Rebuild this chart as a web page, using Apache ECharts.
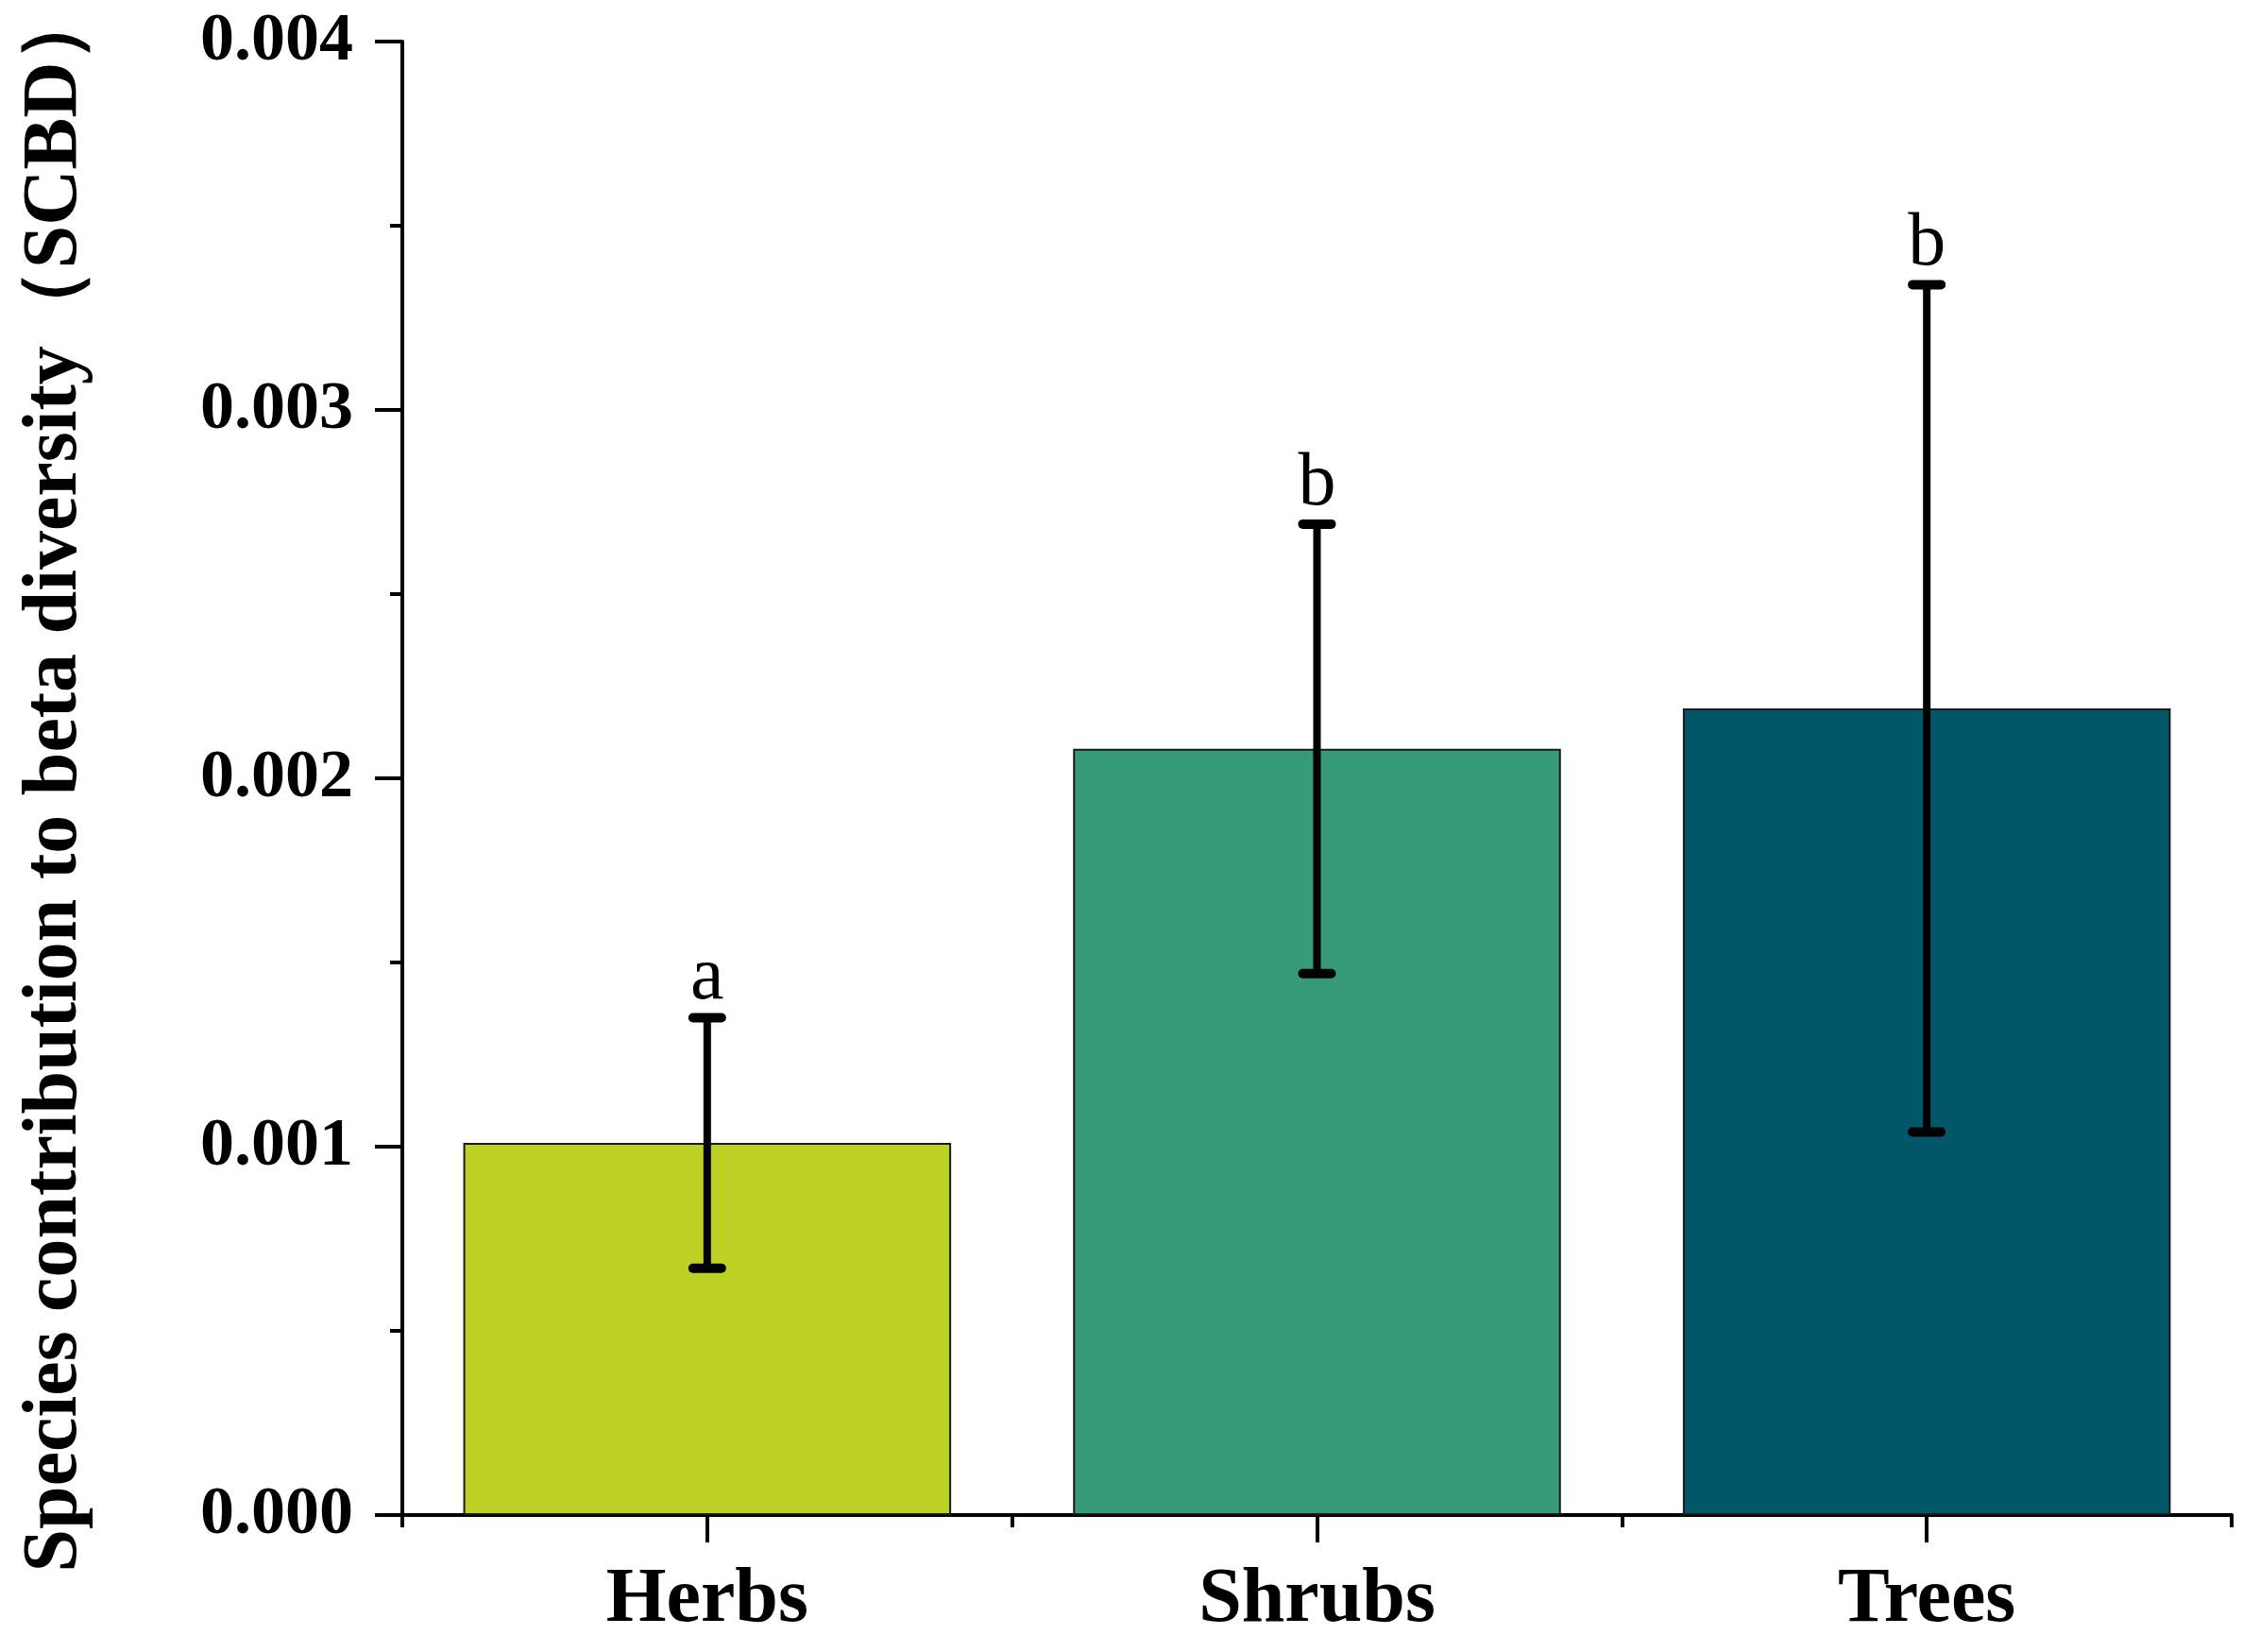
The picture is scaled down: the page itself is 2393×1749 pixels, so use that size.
<!DOCTYPE html>
<html>
<head>
<meta charset="utf-8">
<script src="https://cdn.jsdelivr.net/npm/echarts@6/dist/echarts.min.js"></script>
<style>
html,body{margin:0;padding:0;background:#fff;}
#chart{width:2393px;height:1749px;}
</style>
</head>
<body>
<div id="chart"></div>
<script>
const categories = ['Herbs', 'Shrubs', 'Trees'];
const means = [0.00101, 0.00208, 0.00219];
const errors = [0.00034, 0.00061, 0.00115];
const letters = ['a', 'b', 'b'];
const barColors = ['#BDD024', '#369A78', '#02586A'];
const yTicks = [0, 0.001, 0.002, 0.003, 0.004];

const chart = echarts.init(document.getElementById('chart'));
const serif = '"Liberation Serif", "Times New Roman", serif';

const errData = categories.map((c, i) => [i, means[i] - errors[i], means[i] + errors[i], letters[i]]);

chart.setOption({
  animation: false,
  backgroundColor: '#fff',
  grid: { left: 426, right: 30, top: 44, bottom: 145, containLabel: false, outerBoundsMode: 'none' },
  xAxis: [
    {
      type: 'category',
      data: categories,
      axisLine: { show: true, lineStyle: { color: '#000', width: 4 } },
      axisTick: { show: true, alignWithLabel: true, length: 29, lineStyle: { color: '#000', width: 4 } },
      axisLabel: { color: '#000', fontFamily: serif, fontWeight: 'bold', fontSize: 82, margin: 50 },
      splitLine: { show: false }
    },
    {
      type: 'category',
      data: categories,
      position: 'bottom',
      axisLine: { show: false },
      axisTick: { show: true, alignWithLabel: false, length: 13, lineStyle: { color: '#000', width: 4 } },
      axisLabel: { show: false },
      splitLine: { show: false }
    }
  ],
  yAxis: {
    type: 'value',
    min: yTicks[0],
    max: yTicks[yTicks.length - 1],
    interval: 0.001,
    name: 'Species contribution to beta diversity（SCBD）',
    nameLocation: 'middle',
    nameGap: 326,
    nameTextStyle: { color: '#000', fontFamily: serif, fontWeight: 'bold', fontSize: 82 },
    axisLine: { show: true, lineStyle: { color: '#000', width: 4 } },
    axisTick: { show: true, length: 29, lineStyle: { color: '#000', width: 4 } },
    minorTick: { show: true, splitNumber: 2, length: 13, lineStyle: { color: '#000', width: 4 } },
    axisLabel: { color: '#000', fontFamily: serif, fontWeight: 'bold', fontSize: 72, margin: 52,
      formatter: v => v.toFixed(3) },
    splitLine: { show: false },
    minorSplitLine: { show: false }
  },
  series: [
    {
      type: 'bar',
      data: means.map((v, i) => ({ value: v, itemStyle: { color: barColors[i] } })),
      barCategoryGap: '20%',
      itemStyle: { borderColor: '#1a1a1a', borderWidth: 2 }
    },
    {
      type: 'custom',
      data: errData,
      z: 10,
      renderItem: function (params, api) {
        const x = api.coord([api.value(0), 0])[0];
        const lo = api.coord([api.value(0), api.value(1)])[1];
        const hi = api.coord([api.value(0), api.value(2)])[1];
        const hw = 15;
        return {
          type: 'group',
          children: [
            { type: 'line', shape: { x1: x, y1: lo, x2: x, y2: hi }, style: { stroke: '#000', lineWidth: 8 } },
            { type: 'line', shape: { x1: x - hw, y1: hi, x2: x + hw, y2: hi }, style: { stroke: '#000', lineWidth: 10, lineCap: 'round' } },
            { type: 'line', shape: { x1: x - hw, y1: lo, x2: x + hw, y2: lo }, style: { stroke: '#000', lineWidth: 10, lineCap: 'round' } },
            { type: 'text', style: { text: api.value(3), x: x, y: hi - 2, textAlign: 'center', textVerticalAlign: 'bottom',
              fill: '#000', font: '80px "Liberation Serif", "Times New Roman", serif' } }
          ]
        };
      }
    }
  ]
});
</script>
</body>
</html>
